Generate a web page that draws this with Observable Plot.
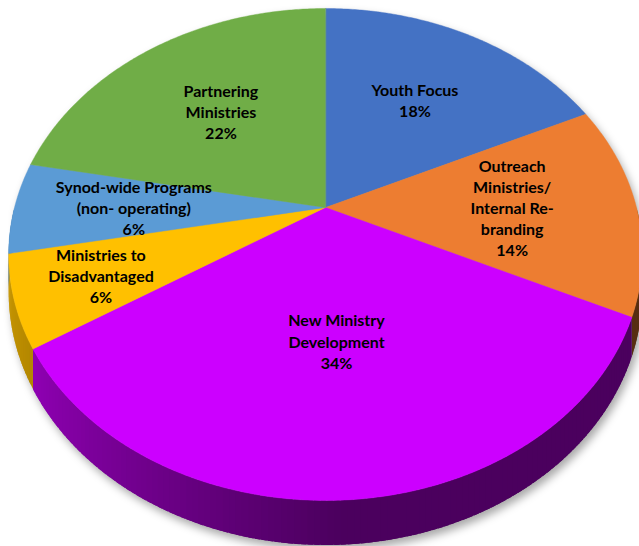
<!DOCTYPE html>
<html><head><meta charset="utf-8">
<script src="https://cdn.jsdelivr.net/npm/d3@7"></script>
<script src="https://cdn.jsdelivr.net/npm/@observablehq/plot@0.6"></script>
<style>html,body{margin:0;padding:0;background:#fff}#chart svg{display:block}</style>
</head><body><div id="chart"></div>
<script>
// ---- data ----
const categories = [
  "Youth Focus",
  "Outreach\nMinistries/\nInternal Re-\nbranding",
  "New Ministry\nDevelopment",
  "Ministries to\nDisadvantaged",
  "Synod-wide Programs\n(non- operating)",
  "Partnering\nMinistries"
];
const shares = [18, 14, 34, 6, 6, 22];
const sliceColors = ["#4472C4", "#ED7D31", "#CC00FF", "#FFC000", "#5B9BD5", "#70AD47"];

// ---- geometry (perspective view of a tilted disc) ----
const W = 639, H = 546;
const cx = 325, cy = 207, A = 311, E = -197.5, P = 0.191, DEPTH = 36;
const FONT = 16, LINE_H = 1.32;
function proj(theta, r, drop = 0) {
  const u = r * Math.sin(theta), v = r * Math.cos(theta);
  const w = 1 + P * v;
  return [cx + A * u / w, (E * v + cy + drop) / w];
}
const total = d3.sum(shares);
let cum = 0;
const slices = shares.map((v, i) => {
  const a0 = cum / total * 2 * Math.PI; cum += v;
  const a1 = cum / total * 2 * Math.PI;
  return {i, a0, a1, v};
});

const step = Math.PI / 360;
const topRows = [];
for (const s of slices) {
  const [x0, y0] = proj(0, 0);
  topRows.push({id: s.i, x: x0, y: y0, fill: sliceColors[s.i]});
  const n = Math.ceil((s.a1 - s.a0) / step);
  for (let k = 0; k <= n; k++) {
    const t = s.a0 + (s.a1 - s.a0) * k / n;
    const [x, y] = proj(t, 1);
    topRows.push({id: s.i, x, y, fill: sliceColors[s.i]});
  }
}

// side wall, drawn as overlapping thin strips to form a smooth shading
const sideRows = [];
let seg = 0;
const deg = Math.PI / 180;
for (const s of slices) {
  const lo = Math.max(s.a0, Math.PI / 2), hi = Math.min(s.a1, 3 * Math.PI / 2);
  if (lo >= hi) continue;
  const base = d3.rgb(sliceColors[s.i]);
  const interp = d3.interpolateRgb(base.darker(0.6), base.darker(2.8));
  const n = Math.ceil((hi - lo) / deg);
  for (let k = n - 1; k >= 0; k--) {
    const t0 = lo + (hi - lo) * k / n;
    const t1 = Math.min(hi, lo + (hi - lo) * (k + 1) / n + 0.8 * deg);
    const tm = (t0 + t1) / 2;
    const sh = Math.max(0, Math.min(1, (Math.sin(tm) + 1) / 1.05));
    const col = interp(Math.pow(sh, 0.75));
    const pts = [proj(t0, 1), proj(t1, 1), proj(t1, 1, DEPTH), proj(t0, 1, DEPTH)];
    for (const [x, y] of pts) sideRows.push({id: seg, x, y, fill: col});
    seg++;
  }
}

const outlineRows = [];
for (let t = -Math.PI / 2; t <= Math.PI / 2 + 1e-9; t += step) {
  const [x, y] = proj(t, 1); outlineRows.push({x, y});
}
for (let t = Math.PI / 2; t <= 3 * Math.PI / 2 + 1e-9; t += step) {
  const [x, y] = proj(t, 1, DEPTH); outlineRows.push({x, y});
}

// labels: at the sector centroid distance, nudged outward if they collide
const boxes = [];
const labelRows = new Array(slices.length);
for (const s of [...slices].reverse()) {
  const alpha = s.a1 - s.a0;
  let r = 0.93 * 4 * Math.sin(alpha / 2) / (3 * alpha);
  const lines = (categories[s.i] + "\n" + s.v + "%").split("\n");
  const hgt = lines.length * FONT * LINE_H;
  const wid = d3.max(lines, l => l.length) * FONT * 0.5;
  let x, y;
  for (let it = 0; it < 20; it++) {
    [x, y] = proj((s.a0 + s.a1) / 2, r);
    const hit = boxes.some(b => Math.abs(b.x - x) < (b.w + wid) / 2 && Math.abs(b.y - y) < (b.h + hgt) / 2 + 4);
    if (!hit) break;
    r += 0.02;
  }
  boxes.push({x, y, w: wid, h: hgt});
  labelRows[s.i] = {x, y, text: lines.join("\n")};
}

const chart = Plot.plot({
  width: W, height: H,
  margin: 0,
  x: {domain: [0, W], range: [0, W], axis: null},
  y: {domain: [0, H], range: [0, H], axis: null},
  marks: [
    Plot.line(outlineRows, {x: "x", y: "y", curve: "linear-closed", fill: "#000", fillOpacity: 0.34, stroke: "none", dx: 3, dy: 5, imageFilter: "blur(4px)"}),
    Plot.line(sideRows, {x: "x", y: "y", z: "id", fill: "fill", stroke: "none", curve: "linear-closed"}),
    Plot.line(topRows, {x: "x", y: "y", z: "id", fill: "fill", stroke: "fill", strokeWidth: 0.4, curve: "linear-closed"}),
    Plot.text(labelRows, {x: "x", y: "y", text: "text", fontSize: FONT, fontWeight: "bold", lineHeight: LINE_H,
      fontFamily: "Lato, 'Open Sans', sans-serif", fill: "#000"})
  ]
});
document.getElementById("chart").appendChild(chart);
</script>
</body></html>
